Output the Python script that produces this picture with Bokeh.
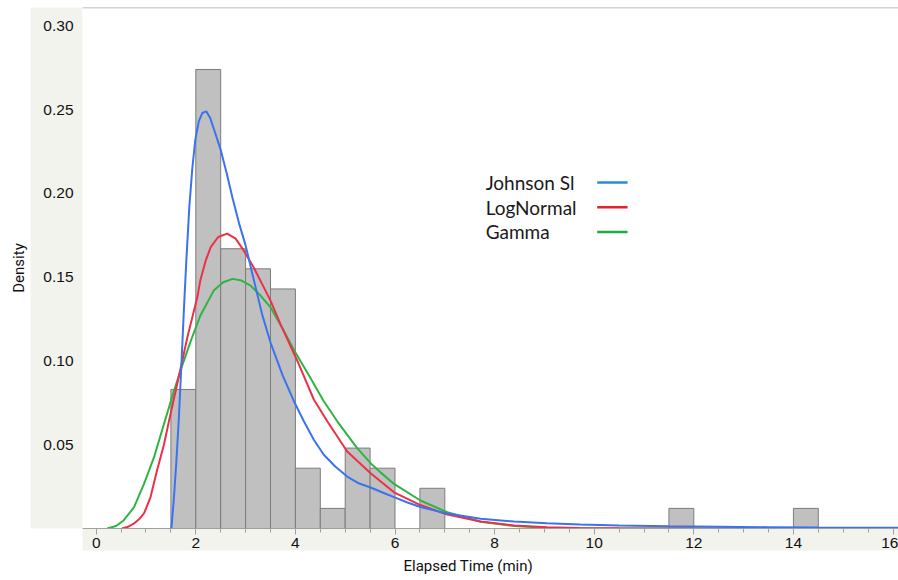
from bokeh.plotting import figure
from bokeh.models import (Label, Span, FixedTicker, Range1d, NumeralTickFormatter, Title)
from bokeh.embed import file_html
from bokeh.resources import INLINE

# ---------------- data ----------------
bin_left = [1.5, 2.0, 2.5, 3.0, 3.5, 4.0, 4.5, 5.0, 5.5, 6.5, 11.5, 14.0]
bin_density = [0.083, 0.274, 0.167, 0.155, 0.143, 0.036, 0.012, 0.048, 0.036, 0.024, 0.012, 0.012]
bin_width = 0.5

johnson_x = [1.51, 1.56, 1.61, 1.66, 1.71, 1.76, 1.81, 1.87, 1.93, 1.99, 2.06, 2.13, 2.21, 2.29,
             2.38, 2.50, 2.62, 2.74, 2.87, 3.00, 3.16, 3.33, 3.50, 3.75, 3.97, 4.17, 4.37, 4.57,
             4.80, 5.04, 5.27, 5.51, 5.75, 5.98, 6.25, 6.51, 7.05, 7.72, 8.39, 9.05, 9.72, 10.5,
             11.5, 12.5, 13.5, 14.5, 15.5, 16.2]
johnson_y = [0.0, 0.018, 0.040, 0.066, 0.097, 0.130, 0.160, 0.192, 0.215, 0.232, 0.243, 0.248, 0.249, 0.245,
             0.237, 0.226, 0.212, 0.197, 0.182, 0.169, 0.149, 0.128, 0.111, 0.091, 0.076, 0.064, 0.053, 0.044,
             0.037, 0.031, 0.027, 0.0245, 0.0215, 0.0187, 0.0155, 0.0128, 0.0089, 0.0058, 0.0042, 0.0032, 0.0024, 0.0018,
             0.0013, 0.0010, 0.0008, 0.0006, 0.0005, 0.0004]

lognormal_x = [0.52, 0.64, 0.76, 0.86, 0.96, 1.09, 1.22, 1.36, 1.49, 1.64, 1.83, 2.03, 2.09, 2.20, 2.30,
               2.45, 2.63, 2.80, 2.96, 3.16, 3.33, 3.50, 3.70, 4.04, 4.37, 4.64, 5.04, 5.51, 5.98,
               6.51, 7.05, 7.72, 8.39, 9.05, 9.70, 10.5, 12.0, 16.2]
lognormal_y = [0.0, 0.001, 0.003, 0.0055, 0.009, 0.0186, 0.0345, 0.050, 0.068, 0.088, 0.114, 0.138, 0.148, 0.160, 0.168,
               0.174, 0.176, 0.173, 0.166, 0.156, 0.146, 0.136, 0.122, 0.100, 0.077, 0.064, 0.046, 0.033, 0.0216,
               0.0140, 0.0083, 0.0042, 0.0018, 0.0007, 0.0003, 0.0001, 0.0, 0.0]

gamma_x = [0.22, 0.40, 0.55, 0.76, 0.96, 1.16, 1.36, 1.53, 1.70, 1.90, 2.09, 2.36, 2.55, 2.74, 2.92,
           3.10, 3.30, 3.50, 3.75, 4.00, 4.30, 4.57, 4.84, 5.24, 5.51, 5.71, 5.98, 6.51, 7.05,
           7.72, 8.39, 9.05, 9.70, 10.5, 16.2]
gamma_y = [0.0, 0.0015, 0.0048, 0.0127, 0.0266, 0.0424, 0.0623, 0.079, 0.095, 0.112, 0.127, 0.142, 0.147, 0.149, 0.148,
           0.145, 0.139, 0.132, 0.119, 0.105, 0.090, 0.076, 0.064, 0.048, 0.039, 0.0335, 0.0266, 0.0167, 0.0097,
           0.0040, 0.0015, 0.0005, 0.0002, 0.0, 0.0]

series_names = ["Johnson Sl", "LogNormal", "Gamma"]
x_ticks = [0, 2, 4, 6, 8, 10, 12, 14, 16]
x_minor = [i * 0.5 for i in range(0, 33)]
y_ticks = [0.05, 0.10, 0.15, 0.20, 0.25, 0.30]
x_title = "Elapsed Time (min)"
y_title = "Density"

# ---------------- styling ----------------
PANEL = "#f3f3ee"
BLUE, RED, GREEN = "#3b72ee", "#ea3148", "#2fb444"
LEG_BLUE, LEG_RED, LEG_GREEN = "#2d88dc", "#e4232b", "#20aa46"
TICK_FONT = "Liberation Sans"

p = figure(width=898, height=580,
           x_range=Range1d(-0.275, 16.11), y_range=Range1d(0, 0.311),
           output_backend="svg", toolbar_location=None,
           min_border_left=82, min_border_right=0, min_border_top=7, min_border_bottom=52,
           border_fill_color="white", background_fill_color="white", outline_line_color=None)
p.grid.visible = False

p.add_layout(Span(location=0.311, dimension="width", line_color="#a6a69e", line_width=1.5))

# histogram
bin_right = [b + bin_width for b in bin_left]
p.quad(left=bin_left, right=bin_right, bottom=0, top=bin_density,
       fill_color="#c0c0c0", line_color="#7c7c7c", line_width=1)

# fitted curves
p.line(gamma_x, gamma_y, line_color=GREEN, line_width=2)
p.line(lognormal_x, lognormal_y, line_color=RED, line_width=2)
p.line(johnson_x, johnson_y, line_color=BLUE, line_width=2)

# legend (text left, line right)
leg_text_x = 7.82
leg_line_x0, leg_line_x1 = 10.06, 10.67
leg_y = [0.2065, 0.1917, 0.1770]
leg_cols = [LEG_BLUE, LEG_RED, LEG_GREEN]
for name, yy, c in zip(series_names, leg_y, leg_cols):
    p.add_layout(Label(x=leg_text_x, y=yy, text=name, text_font="Lato", text_font_size="19px",
                       text_color="#1a1a1a", text_baseline="middle", text_align="left"))
p.segment(x0=[leg_line_x0] * 3, x1=[leg_line_x1] * 3, y0=leg_y, y1=leg_y,
          line_color=leg_cols, line_width=2.5)

# axes
xa = p.xaxis[0]
xa.ticker = FixedTicker(ticks=x_ticks, minor_ticks=x_minor)
xa.axis_line_color = "#a0a0a0"
xa.major_tick_line_color = "#a0a0a0"
xa.minor_tick_line_color = "#a0a0a0"
xa.major_tick_out = 6
xa.major_tick_in = 0
xa.minor_tick_out = 4
xa.minor_tick_in = 0
xa.major_label_standoff = 3
xa.major_label_text_font = TICK_FONT
xa.major_label_text_font_size = "15.5px"
xa.major_label_text_color = "#111111"
xa.background_fill_color = PANEL

ya = p.yaxis[0]
ya.ticker = FixedTicker(ticks=y_ticks)
ya.formatter = NumeralTickFormatter(format="0.00")
ya.axis_line_color = None
ya.major_tick_line_color = None
ya.minor_tick_line_color = None
ya.major_tick_out = 0
ya.major_tick_in = 0
ya.major_label_standoff = 9
ya.major_label_text_font = TICK_FONT
ya.major_label_text_font_size = "15.5px"
ya.major_label_text_color = "#111111"
ya.axis_label = "\u00a0"
ya.axis_label_text_font_size = "1px"
ya.axis_label_standoff = 6
ya.background_fill_color = PANEL

# axis titles in the white margin
p.add_layout(Title(text=y_title, align="center", offset=5, text_font="Roboto", text_font_size="15px",
                   text_font_style="normal", text_color="#111111", standoff=6), "left")
p.add_layout(Title(text=x_title, align="left", offset=321, text_font="Roboto", text_font_size="15px",
                   text_font_style="normal", text_color="#111111", standoff=8), "below")

open("out.html", "w").write(file_html(p, INLINE))
